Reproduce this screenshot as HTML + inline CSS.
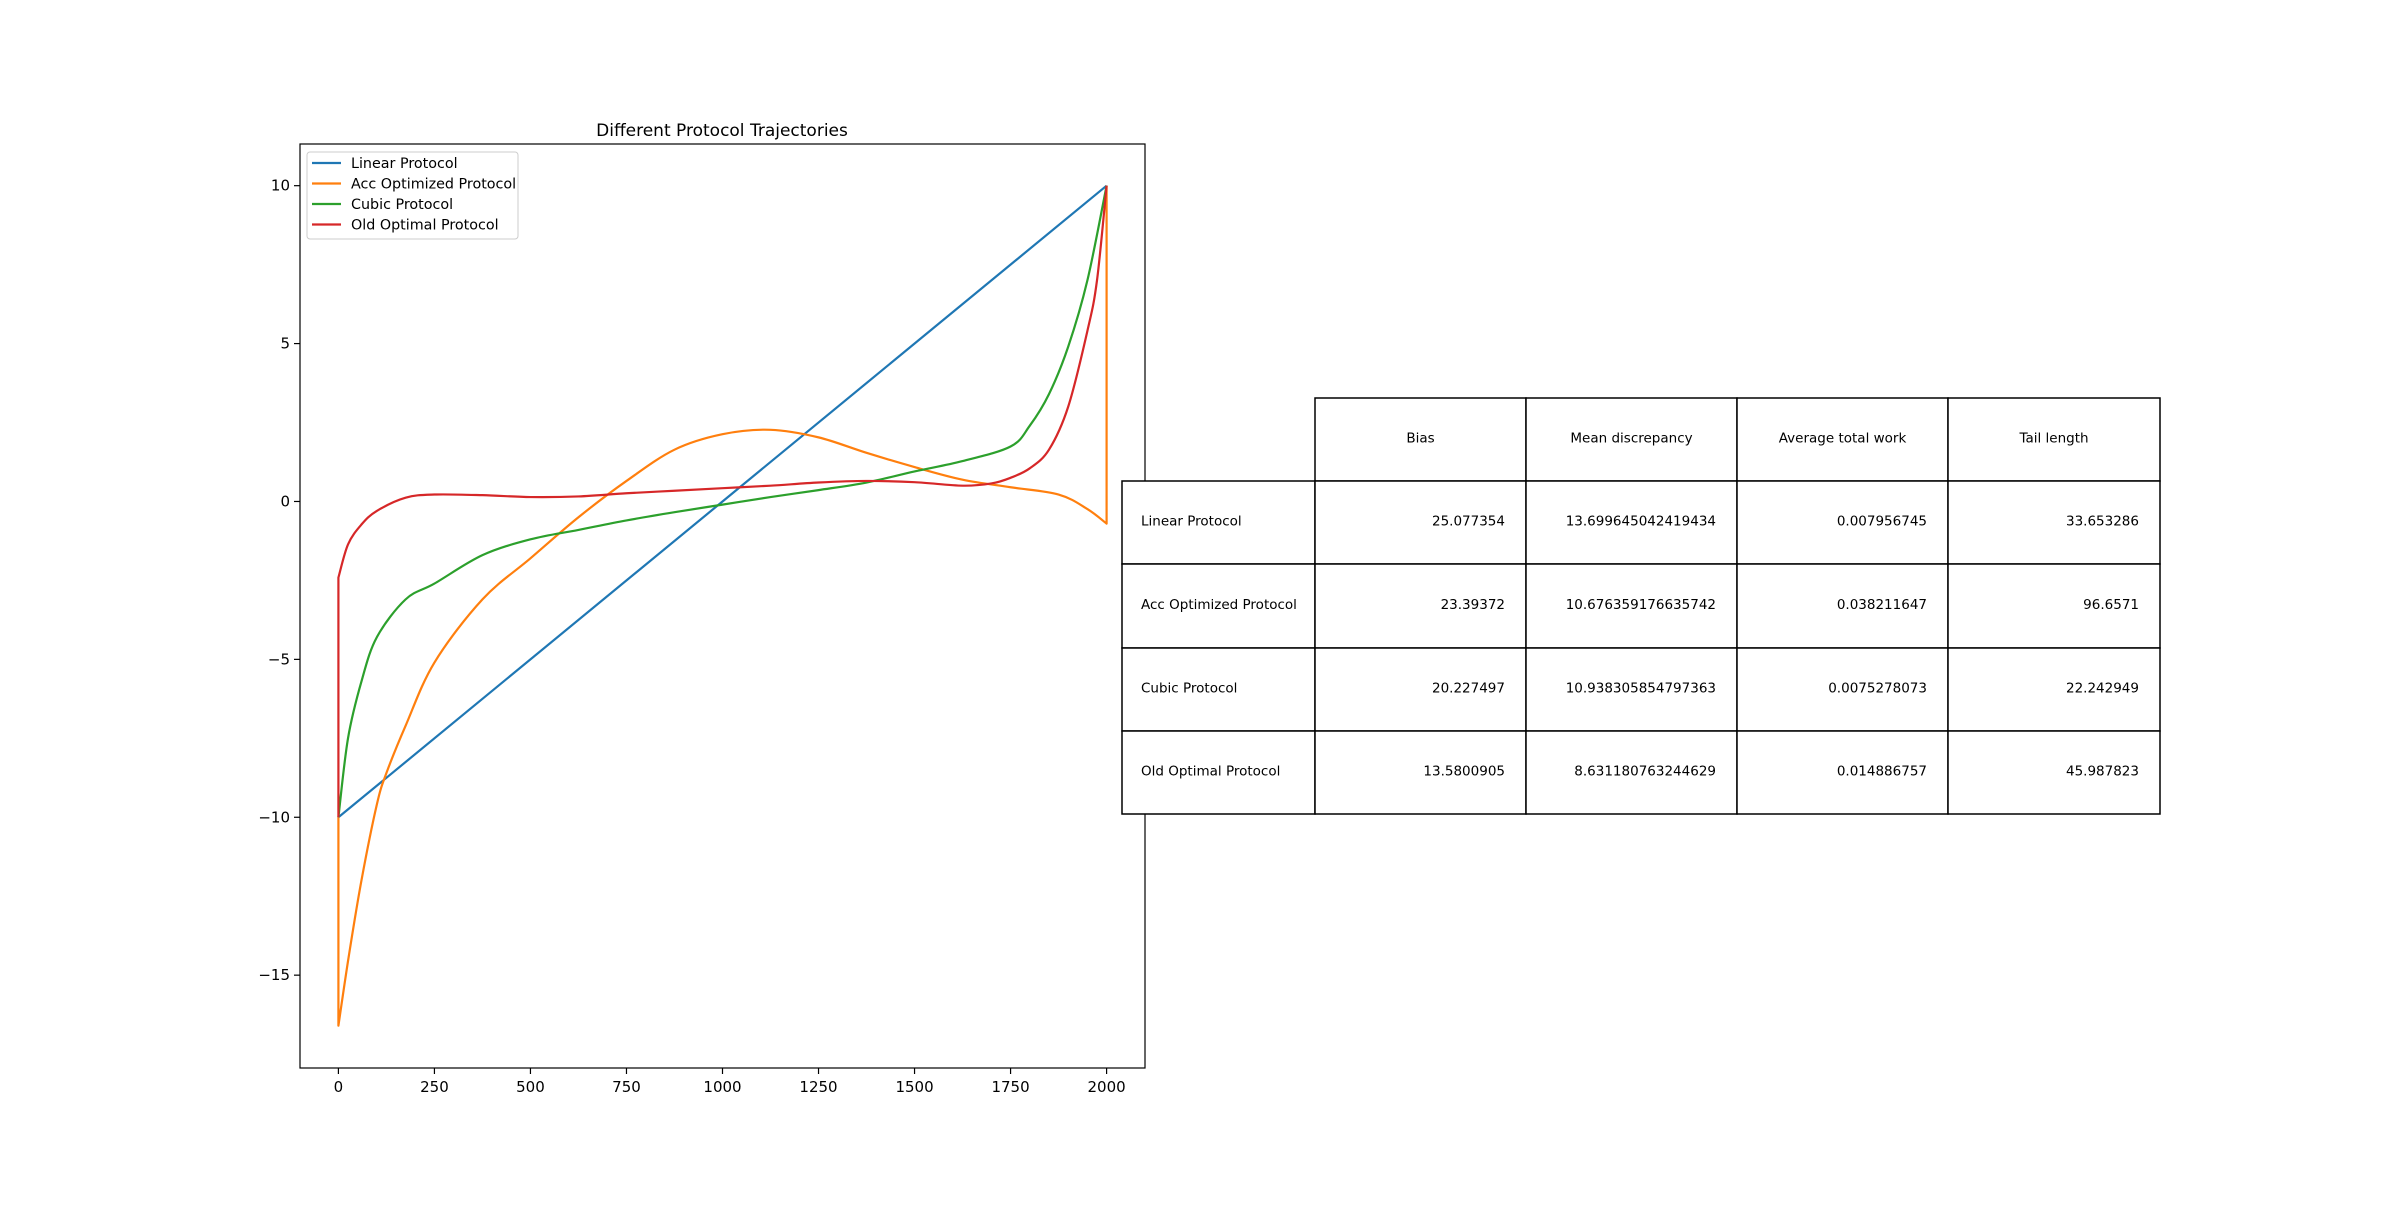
<!DOCTYPE html>
<html><head><meta charset="utf-8"><style>
body{margin:0;background:#fff;}
svg text{font-family:"DejaVu Sans","Liberation Sans",sans-serif;}
</style></head><body>
<svg id="chart" width="2400" height="1200" xmlns="http://www.w3.org/2000/svg">
<rect width="2400" height="1200" fill="#fff"/>
<text x="722" y="136" font-size="17" text-anchor="middle">Different Protocol Trajectories</text>
<g id="plot"></g>
<g id="table"></g>
</svg>
<script>
const xTicks=[0,250,500,750,1000,1250,1500,1750,2000];
const yTicks=[10,5,0,-5,-10,-15];
const seriesNames=["Linear Protocol","Acc Optimized Protocol","Cubic Protocol","Old Optimal Protocol"];
const seriesColors=["#1f77b4","#ff7f0e","#2ca02c","#d62728"];
const linearX=[0,2000];
const linearY=[-10,10];
const accX=[0,0,27,60,100,125,175,250,375,500,625,750,875,1000,1125,1250,1375,1500,1625,1750,1875,1950,2000,2000];
const accY=[-10,-16.6,-14.4,-12,-9.6,-8.6,-7.1,-5.1,-3.1,-1.8,-0.5,0.65,1.64,2.13,2.27,2.03,1.54,1.09,0.69,0.45,0.22,-0.24,-0.7,10];
const cubicX=[0,25,60,100,175,250,375,500,625,750,875,1000,1125,1250,1375,1500,1625,1750,1800,1850,1900,1950,2000];
const cubicY=[-10,-7.5,-5.7,-4.3,-3.1,-2.6,-1.7,-1.2,-0.9,-0.6,-0.34,-0.1,0.14,0.36,0.6,0.95,1.28,1.74,2.4,3.4,4.9,7.0,10];
const oldX=[0,0,25,60,100,175,250,375,500,625,750,875,1000,1125,1250,1375,1500,1625,1700,1750,1800,1850,1900,1950,1975,2000];
const oldY=[-10,-2.41,-1.36,-0.73,-0.3,0.12,0.22,0.2,0.14,0.16,0.26,0.34,0.42,0.5,0.6,0.65,0.61,0.5,0.57,0.75,1.05,1.64,3.0,5.4,7.0,10];
const tableCols=["Bias","Mean discrepancy","Average total work","Tail length"];
const tableRows=["Linear Protocol","Acc Optimized Protocol","Cubic Protocol","Old Optimal Protocol"];
const tableBias=["25.077354","23.39372","20.227497","13.5800905"];
const tableMean=["13.699645042419434","10.676359176635742","10.938305854797363","8.631180763244629"];
const tableWork=["0.007956745","0.038211647","0.0075278073","0.014886757"];
const tableTail=["33.653286","96.6571","22.242949","45.987823"];

const NS="http://www.w3.org/2000/svg";
const AX={l:300,r:1145,t:144,b:1068};
const xMin=-100,xMax=2100,yMin=-17.94,yMax=11.32;
const sx=v=>AX.l+(v-xMin)/(xMax-xMin)*(AX.r-AX.l);
const sy=v=>AX.b-(v-yMin)/(yMax-yMin)*(AX.b-AX.t);
function mk(tag,attrs,parent){const e=document.createElementNS(NS,tag);for(const k in attrs)e.setAttribute(k,attrs[k]);parent.appendChild(e);return e;}
function smoothPath(xs,ys){
  const P=xs.map((x,i)=>[sx(x),sy(ys[i])]);
  let d='M'+P[0][0]+','+P[0][1];
  for(let i=0;i<P.length-1;i++){
    const a=P[i],b=P[i+1];
    if(xs[i]===xs[i+1]){d+=' L'+b[0]+','+b[1];continue;}
    const p0=(i>0&&xs[i-1]!==xs[i])?P[i-1]:a;
    const p3=(i+2<P.length&&xs[i+2]!==xs[i+1])?P[i+2]:b;
    const c1=[a[0]+(b[0]-p0[0])/6,a[1]+(b[1]-p0[1])/6];
    const c2=[b[0]-(p3[0]-a[0])/6,b[1]-(p3[1]-a[1])/6];
    d+=' C'+c1[0]+','+c1[1]+' '+c2[0]+','+c2[1]+' '+b[0]+','+b[1];
  }
  return d;
}
const plot=document.getElementById('plot');
const clip=mk('clipPath',{id:'clp'},plot);
mk('rect',{x:AX.l,y:AX.t,width:AX.r-AX.l,height:AX.b-AX.t},clip);
const seriesX=[linearX,accX,cubicX,oldX],seriesY=[linearY,accY,cubicY,oldY];
const slugs=['linear','acc-optimized','cubic','old-optimal'];
for(let s=0;s<4;s++){
  const p=mk('path',{d:smoothPath(seriesX[s],seriesY[s]),fill:'none',stroke:seriesColors[s],'stroke-width':2.2,'stroke-linejoin':'round','clip-path':'url(#clp)'},plot);
  
  
}
const frame=mk('rect',{x:AX.l,y:AX.t,width:AX.r-AX.l,height:AX.b-AX.t,fill:'none',stroke:'#000','stroke-width':1.2},plot);


xTicks.forEach(v=>{
  const x=sx(v);
  mk('line',{x1:x,x2:x,y1:AX.b,y2:AX.b+6,stroke:'#000','stroke-width':1.2},plot);
  const t=mk('text',{x:x,y:AX.b+24,'font-size':15,'text-anchor':'middle'},plot);
  t.textContent=v;
  
  
});
yTicks.forEach(v=>{
  const y=sy(v);
  mk('line',{x1:AX.l-6,x2:AX.l,y1:y,y2:y,stroke:'#000','stroke-width':1.2},plot);
  const t=mk('text',{x:AX.l-10,y:y+5,'font-size':15,'text-anchor':'end'},plot);
  t.textContent=v<0?'\u2212'+(-v):v;
  
  
});
const lg=mk('g',{},plot);


mk('rect',{x:307,y:152,width:211,height:87,rx:3,fill:'#fff','fill-opacity':0.8,stroke:'#ccc','stroke-width':1},lg);
seriesNames.forEach((n,i)=>{
  const y=163+i*20.5;
  mk('line',{x1:312,x2:341,y1:y,y2:y,stroke:seriesColors[i],'stroke-width':2.2},lg);
  const t=mk('text',{x:351,y:y+5,'font-size':14.3},lg);
  t.textContent=n;
  
  
});
const tg=document.getElementById('table');
const colX=[1122,1315,1526,1737,1948,2160];
const rowY=[398,481,564,648,731,814];
for(let c=0;c<4;c++){
  mk('rect',{x:colX[c+1],y:rowY[0],width:colX[c+2]-colX[c+1],height:rowY[1]-rowY[0],fill:'#fff',stroke:'#000','stroke-width':1.5},tg);
  const t=mk('text',{x:(colX[c+1]+colX[c+2])/2,y:(rowY[0]+rowY[1])/2+3,'font-size':13.5,'text-anchor':'middle'},tg);
  t.textContent=tableCols[c];
  
  
}
const cols=[tableBias,tableMean,tableWork,tableTail];
for(let r=0;r<4;r++){
  const y0=rowY[r+1],y1=rowY[r+2],ym=(y0+y1)/2+3;
  mk('rect',{x:colX[0],y:y0,width:colX[1]-colX[0],height:y1-y0,fill:'#fff',stroke:'#000','stroke-width':1.5},tg);
  const t=mk('text',{x:colX[0]+19,y:ym,'font-size':13.5},tg);
  t.textContent=tableRows[r];
  
  
  for(let c=0;c<4;c++){
    mk('rect',{x:colX[c+1],y:y0,width:colX[c+2]-colX[c+1],height:y1-y0,fill:'#fff',stroke:'#000','stroke-width':1.5},tg);
    const v=mk('text',{x:colX[c+2]-21,y:ym,'font-size':13.5,'text-anchor':'end'},tg);
    v.textContent=cols[c][r];
    
    
  }
}
</script>
</body></html>
